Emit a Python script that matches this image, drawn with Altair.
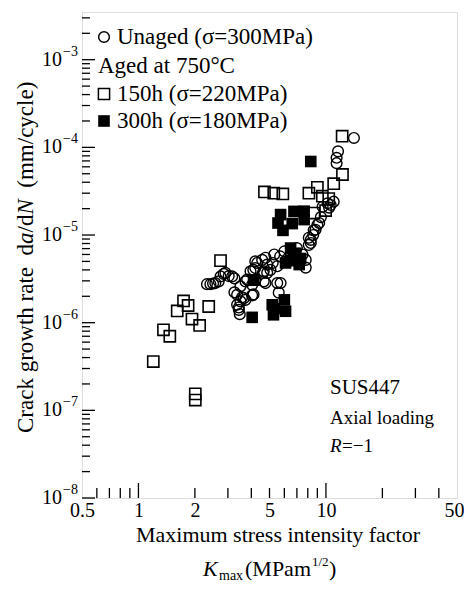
import altair as alt
import pandas as pd

# ---------------- data ----------------
unaged_k = [14.1, 11.6, 11.4, 11.4, 11.0, 10.6, 10.2, 9.6, 9.2, 9.0, 8.8, 8.6, 8.55, 8.3,
            8.1, 8.1, 8.3, 7.8, 7.8, 7.0, 7.0, 6.5, 6.0, 5.7, 5.5, 5.3, 5.2, 5.06, 4.86,
            4.86, 4.76, 4.66, 4.57, 4.3, 4.2, 4.2, 4.1, 3.96, 3.8, 3.72, 3.5, 4.04, 4.2,
            4.62, 4.66, 4.76, 5.5, 5.73, 5.6, 3.16, 3.25, 2.91, 2.85, 2.74, 2.68, 2.57,
            2.5, 2.42, 2.32, 3.36, 3.25, 3.57, 3.65, 3.5, 3.43, 3.36, 3.43, 3.47, 3.72,
            4.04, 4.11, 3.03, 7.5, 6.2, 9.4, 10.4]
unaged_rate = [1.28e-4, 9.0e-5, 7.6e-5, 6.6e-5, 2.4e-5, 2.2e-5, 2.3e-5, 2.1e-5, 1.37e-5,
               1.3e-5, 1.15e-5, 1.13e-5, 1.0e-5, 8.8e-6, 9.3e-6, 7.7e-6, 8.1e-6, 5.2e-6,
               4.25e-6, 7.1e-6, 5.2e-6, 6.0e-6, 6.5e-6, 5.7e-6, 4.4e-6, 6.0e-6, 4.8e-6,
               4.0e-6, 4.6e-6, 3.7e-6, 5.5e-6, 3.85e-6, 5.2e-6, 4.8e-6, 4.2e-6, 5.0e-6,
               4.0e-6, 3.85e-6, 3.1e-6, 2.96e-6, 2.6e-6, 2.7e-6, 3.1e-6, 3.7e-6, 2.96e-6,
               2.83e-6, 2.83e-6, 2.83e-6, 2.2e-6, 3.37e-6, 3.2e-6, 3.7e-6, 3.6e-6, 3.37e-6,
               2.96e-6, 2.83e-6, 2.8e-6, 2.75e-6, 2.75e-6, 2.08e-6, 2.22e-6, 1.95e-6,
               1.9e-6, 1.75e-6, 1.49e-6, 1.6e-6, 1.4e-6, 1.25e-6, 1.82e-6, 2.05e-6,
               2.1e-6, 3.4e-6, 6.0e-6, 5.3e-6, 1.6e-5, 2.05e-5]

aged150_k = [1.20, 1.36, 1.47, 1.61, 1.74, 1.84, 1.93, 2.12, 2.37, 2.01, 2.01, 2.74,
             4.70, 5.27, 5.89, 8.11, 9.0, 9.57, 8.63, 9.96, 11.0, 12.25, 12.2, 10.35]
aged150_rate = [3.6e-7, 8.3e-7, 7.0e-7, 1.36e-6, 1.77e-6, 1.57e-6, 1.10e-6, 9.3e-7,
                1.53e-6, 1.54e-7, 1.31e-7, 5.1e-6, 3.1e-5, 3.0e-5, 2.94e-5, 3.0e-5,
                3.5e-5, 2.77e-5, 1.78e-5, 1.9e-5, 3.85e-5, 4.9e-5, 1.34e-4, 2.6e-5]

aged300_k = [4.04, 4.11, 5.17, 5.25, 6.0, 6.09, 5.73, 5.55, 5.9, 6.75, 6.61, 7.65, 7.65,
             8.3, 6.48, 6.9, 7.33, 6.48, 6.09, 7.2, 5.3]
aged300_rate = [1.15e-6, 3.05e-6, 1.6e-6, 1.23e-6, 1.82e-6, 1.35e-6, 1.71e-5, 1.37e-5,
                1.13e-5, 1.86e-5, 1.35e-5, 1.87e-5, 1.5e-5, 6.9e-5, 7.1e-6, 6.2e-6,
                5.4e-6, 5.1e-6, 4.8e-6, 4.6e-6, 1.45e-6]

x_label_values = [0.5, 1, 2, 5, 10, 50]
x_minor_ticks = [0.6, 0.7, 0.8, 0.9, 2, 3, 4, 5, 6, 7, 8, 9, 20, 30, 40]
x_major_ticks = [1, 10]
y_decades = [1e-8, 1e-7, 1e-6, 1e-5, 1e-4, 1e-3]
y_exponents = ["\u22128", "\u22127", "\u22126", "\u22125", "\u22124", "\u22123"]
y_minor_mult = [2, 3, 4, 5, 6, 7, 8, 9]
x_domain = [0.5, 50]
y_domain = [1e-8, 3.5e-3]

legend_labels = ["Unaged (\u03c3=300MPa)", "Aged at 750\u00b0C",
                 "150h (\u03c3=220MPa)", "300h (\u03c3=180MPa)"]

# ---------------- chart ----------------
W, H = 375, 486
FONT = "Liberation Serif"

y_minor_ticks = [m * d for d in y_decades for m in y_minor_mult if m * d <= y_domain[1]]

xs = alt.Scale(type="log", domain=x_domain, nice=False)
ys = alt.Scale(type="log", domain=y_domain, nice=False)

X = alt.X("K:Q", scale=xs,
          axis=alt.Axis(values=x_label_values, format="~g", labelFont=FONT,
                        labelFontSize=20, labelColor="black", ticks=False, tickSize=0,
                        labelPadding=2, domain=False, grid=False, title=None,
                        labelFlush=False, labelOverlap=False,
                        labelOffset={"condition": {"test": "datum.value >= 40", "value": -3},
                                     "value": 0}))
Y = alt.Y("rate:Q", scale=ys, axis=None)

unaged = pd.DataFrame({"K": unaged_k, "rate": unaged_rate})
a150 = pd.DataFrame({"K": aged150_k, "rate": aged150_rate})
a300 = pd.DataFrame({"K": aged300_k, "rate": aged300_rate})

l_unaged = alt.Chart(unaged).mark_point(shape="circle", filled=False, color="black",
                                         size=115, strokeWidth=1.4, opacity=1).encode(x=X, y=Y)
l_150 = alt.Chart(a150).mark_point(shape="square", filled=False, color="black",
                                    size=125, strokeWidth=1.6, opacity=1).encode(x=X, y=Y)
l_300 = alt.Chart(a300).mark_point(shape="square", filled=True, color="black",
                                    size=135, opacity=1).encode(x=X, y=Y)

# inward ticks
xt_minor = alt.Chart(pd.DataFrame({"K": x_minor_ticks})).mark_rule(color="black", strokeWidth=1.3).encode(
    x=X, y=alt.value(H), y2=alt.value(H - 10))
xt_major = alt.Chart(pd.DataFrame({"K": x_major_ticks})).mark_rule(color="black", strokeWidth=1.3).encode(
    x=X, y=alt.value(H), y2=alt.value(H - 15))
yt_minor = alt.Chart(pd.DataFrame({"rate": y_minor_ticks})).mark_rule(color="black", strokeWidth=1.3).encode(
    y=Y, x=alt.value(0), x2=alt.value(8))
yt_major = alt.Chart(pd.DataFrame({"rate": y_decades})).mark_rule(color="black", strokeWidth=1.3).encode(
    y=Y, x=alt.value(0), x2=alt.value(13))

# y tick labels 10^n
ylab_df = pd.DataFrame({"rate": y_decades, "exp": y_exponents})
ylab10 = alt.Chart(ylab_df).mark_text(align="right", baseline="middle", font=FONT,
                                      fontSize=20, color="black").encode(
    y=Y, x=alt.value(-20), text=alt.value("10"))
ylabexp = alt.Chart(ylab_df).mark_text(align="left", baseline="middle", font=FONT,
                                       fontSize=14, color="black", dy=-8).encode(
    y=Y, x=alt.value(-19), text="exp:N")

dummy = pd.DataFrame({"a": [0]})


def txt(s, x, y, size=22, style="normal", align="left", baseline="alphabetic", angle=0):
    kw = dict(text=s, font=FONT, fontSize=size, fontStyle=style, align=align,
              baseline=baseline, color="black")
    if angle:
        kw["angle"] = angle
    return alt.Chart(dummy).mark_text(**kw).encode(x=alt.value(x), y=alt.value(y))


def sym(shape, filled, x, y, size):
    return alt.Chart(dummy).mark_point(shape=shape, filled=filled, color="black", size=size,
                                       strokeWidth=1.5, opacity=1).encode(
        x=alt.value(x), y=alt.value(y))


LS = 23
legend = [
    sym("circle", False, 22, 25, 115), txt(legend_labels[0], 35, 25, size=LS, baseline="middle"),
    txt(legend_labels[1], 16, 54, size=LS, baseline="middle"),
    sym("square", False, 22, 82, 125), txt(legend_labels[2], 35, 82, size=LS, baseline="middle"),
    sym("square", True, 22, 109, 135), txt(legend_labels[3], 35, 109, size=LS, baseline="middle"),
]

notes = [
    txt("SUS447", 248, 376, size=21, baseline="middle"),
    txt("Axial loading", 248, 406, size=19, baseline="middle"),
    txt("R", 248, 434, size=19, style="italic", baseline="middle"),
    txt("=\u22121", 260, 434, size=19, baseline="middle"),
]

# y title (rotated), pieces for italics
yt_x = -49
ytitle = [
    txt("Crack growth rate", yt_x, 421, size=23, angle=270),
    txt("d", yt_x, 243.4, size=23, angle=270),
    txt("a", yt_x, 231.9, size=23, angle=270, style="italic"),
    txt("/d", yt_x, 220.4, size=23, angle=270),
    txt("N", yt_x, 202.5, size=23, angle=270, style="italic"),
    txt("(mm/cycle)", yt_x, 175.7, size=23, angle=270),
]

# x title
l2 = 564
xtitle = [
    txt("Maximum stress intensity factor", 196, 530, size=22, align="center"),
    txt("K", 121, l2, size=22, style="italic"),
    txt("max", 137, l2 + 4, size=14),
    txt("(MPam", 163, l2, size=22),
    txt("1/2", 230, l2 - 10, size=13),
    txt(")", 247, l2, size=22),
]

chart = alt.layer(
    l_unaged, l_150, l_300, xt_minor, xt_major, yt_minor, yt_major, ylab10, ylabexp,
    *legend, *notes, *ytitle, *xtitle
).properties(
    width=W, height=H,
    autosize=alt.AutoSizeParams(type="none"),
    padding={"left": 74, "top": 4, "right": 7, "bottom": 86},
).configure_view(stroke="black", strokeWidth=1.6).configure(background="white")

chart.save("out.html", embed_options={"renderer": "svg", "actions": False})
